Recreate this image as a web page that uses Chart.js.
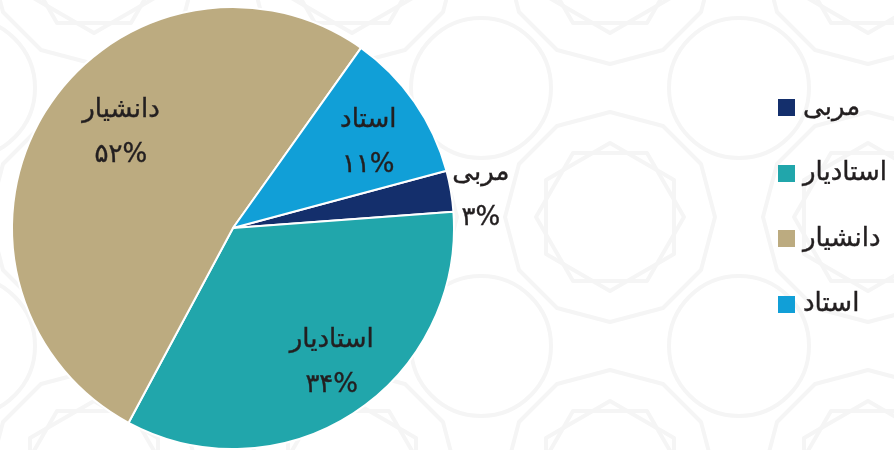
<!DOCTYPE html>
<html lang="fa">
<head>
<meta charset="utf-8">
<script src="https://cdn.jsdelivr.net/npm/chart.js@4.4.1/dist/chart.umd.min.js"></script>
<style>
  html, body { margin: 0; padding: 0; background: #fff; }
  #wrap {
    position: relative;
    width: 894px;
    height: 450px;
    overflow: hidden;
    background-image: url("data:image/svg+xml,%3Csvg xmlns='http://www.w3.org/2000/svg' width='258' height='258' viewBox='0 0 258 258'%3E%3Cg fill='none' stroke='%23f5f5f5' stroke-width='4' stroke-linejoin='round'%3E%3Cpolygon points='129,24 182,38 220,76 234,129 220,182 182,220 129,234 76,220 38,182 24,129 38,76 76,38'/%3E%3Cpolygon points='129,55 193,92 193,166 129,203 65,166 65,92'/%3E%3Cpolygon points='55,129 92,65 166,65 203,129 166,193 92,193'/%3E%3Ccircle cx='0' cy='0' r='70'/%3E%3Ccircle cx='258' cy='0' r='70'/%3E%3Ccircle cx='0' cy='258' r='70'/%3E%3Ccircle cx='258' cy='258' r='70'/%3E%3C/g%3E%3C/svg%3E");
    background-position: 481px 88px;
  }
  #chart { position: absolute; left: 0; top: 0; }
  #legend {
    position: absolute;
    left: 778px;
    top: 90px;
    font-family: "DejaVu Sans", sans-serif;
    font-size: 26px;
    color: #231f20;
    -webkit-text-stroke: 0.4px #231f20;
  }
  .item { display: flex; align-items: center; height: 35px; margin-bottom: 30.5px; }
  .swatch { width: 17px; height: 17px; margin-right: 8px; flex: none; }
  .name { position: relative; top: -2px; }
</style>
</head>
<body>
<div id="wrap">
  <canvas id="chart" width="894" height="450"></canvas>
  <div id="legend"></div>
</div>
<script>
// academic ranks and their share of faculty
const ranks = ['مربی', 'استادیار', 'دانشیار', 'استاد'];
const shares = [3, 34, 52, 11];
const shareLabels = ['۳%', '۳۴%', '۵۲%', '۱۱%'];
const sliceColors = ['#142f6c', '#21a6ab', '#bcab80', '#119fd7'];

// where each label sits: fraction of the radius, extra turn in degrees
const labelRadius = [1.13, 0.76, 0.66, 0.72];
const labelTurn = [2.5, -3, 8, 3];

const textFont = '26px "DejaVu Sans", sans-serif';
const textColor = '#231f20';

const sliceLabels = {
  id: 'sliceLabels',
  afterDatasetsDraw(chart) {
    const ctx = chart.ctx;
    const meta = chart.getDatasetMeta(0);
    ctx.save();
    ctx.font = textFont;
    ctx.fillStyle = textColor;
    ctx.strokeStyle = textColor;
    ctx.lineWidth = 0.4;
    ctx.textAlign = 'center';
    ctx.textBaseline = 'middle';
    meta.data.forEach((arc, i) => {
      const p = arc.getProps(['x', 'y', 'startAngle', 'endAngle', 'outerRadius'], true);
      const a = (p.startAngle + p.endAngle) / 2 + labelTurn[i] * Math.PI / 180;
      const r = p.outerRadius * labelRadius[i];
      const cx = p.x + Math.cos(a) * r;
      const cy = p.y + Math.sin(a) * r;
      ctx.fillText(ranks[i], cx, cy - 24);
      ctx.strokeText(ranks[i], cx, cy - 24);
      ctx.fillText(shareLabels[i], cx, cy + 21);
      ctx.strokeText(shareLabels[i], cx, cy + 21);
    });
    ctx.restore();
  }
};

new Chart(document.getElementById('chart'), {
  type: 'pie',
  data: {
    labels: ranks,
    datasets: [{
      data: shares,
      backgroundColor: sliceColors,
      borderColor: '#ffffff',
      borderWidth: 2
    }]
  },
  options: {
    responsive: false,
    animation: false,
    rotation: 75,
    layout: { padding: { left: 11, top: 6, right: 439, bottom: 0 } },
    plugins: {
      legend: { display: false },
      tooltip: { enabled: false }
    }
  },
  plugins: [sliceLabels]
});

// legend on the right
const legendEl = document.getElementById('legend');
ranks.forEach((name, i) => {
  const row = document.createElement('div');
  row.className = 'item';
  row.innerHTML = `<span class="swatch" style="background:${sliceColors[i]}"></span><span class="name">${name}</span>`;
  legendEl.appendChild(row);
});
</script>
</body>
</html>
